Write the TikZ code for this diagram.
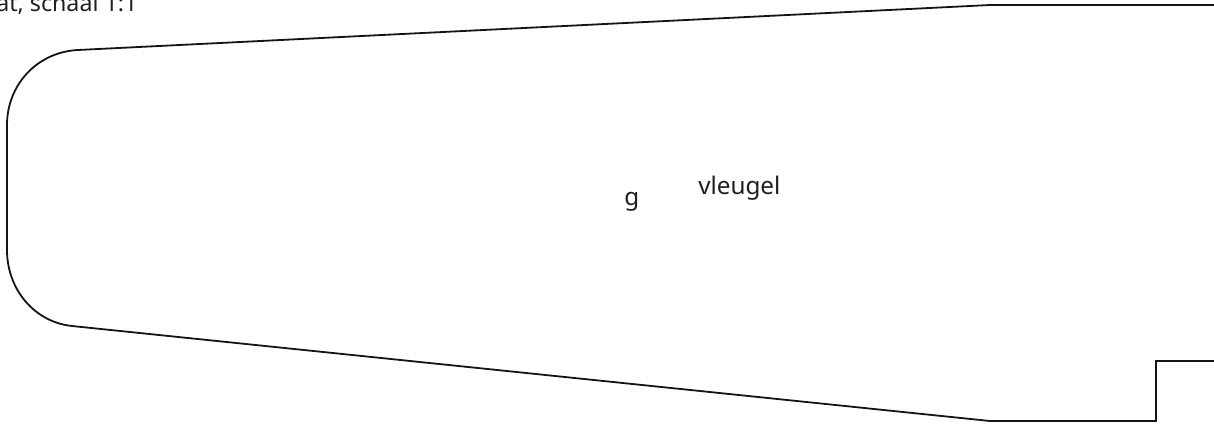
\documentclass[tikz,border=0pt]{standalone}
\usepackage{fontspec}
\setmainfont{Noto Sans}
\tikzset{
  outline/.style={line width=1.35pt,color=black!92,line join=miter},
  lbl/.style={inner sep=0pt,anchor=base west,font=\fontsize{18.2}{20}\selectfont,text=black!88},
  titlelbl/.style={lbl,font=\fontsize{17.4}{20}\selectfont}
}
\begin{document}
\begin{tikzpicture}[x=0.75pt,y=-0.75pt]
\useasboundingbox (0,0) rectangle (1214,425);
\begin{scope}
\clip (0,0) rectangle (1214,425);
\draw[outline] (1214,5) -- (990,5) -- (78,50)
  .. controls (37,52) and (7,85) .. (7,125)
  -- (7,250)
  .. controls (7,289) and (34,322) .. (72,326)
  -- (990,421) -- (1156,421) -- (1156,361) -- (1214,361);
\node[titlelbl] (title) at (-4,11) {at, schaal 1:1};
\end{scope}
\node[lbl] (g) at (624,205) {g};
\node[lbl] (vleugel) at (698,194) {vleugel};
\end{tikzpicture}
\end{document}
